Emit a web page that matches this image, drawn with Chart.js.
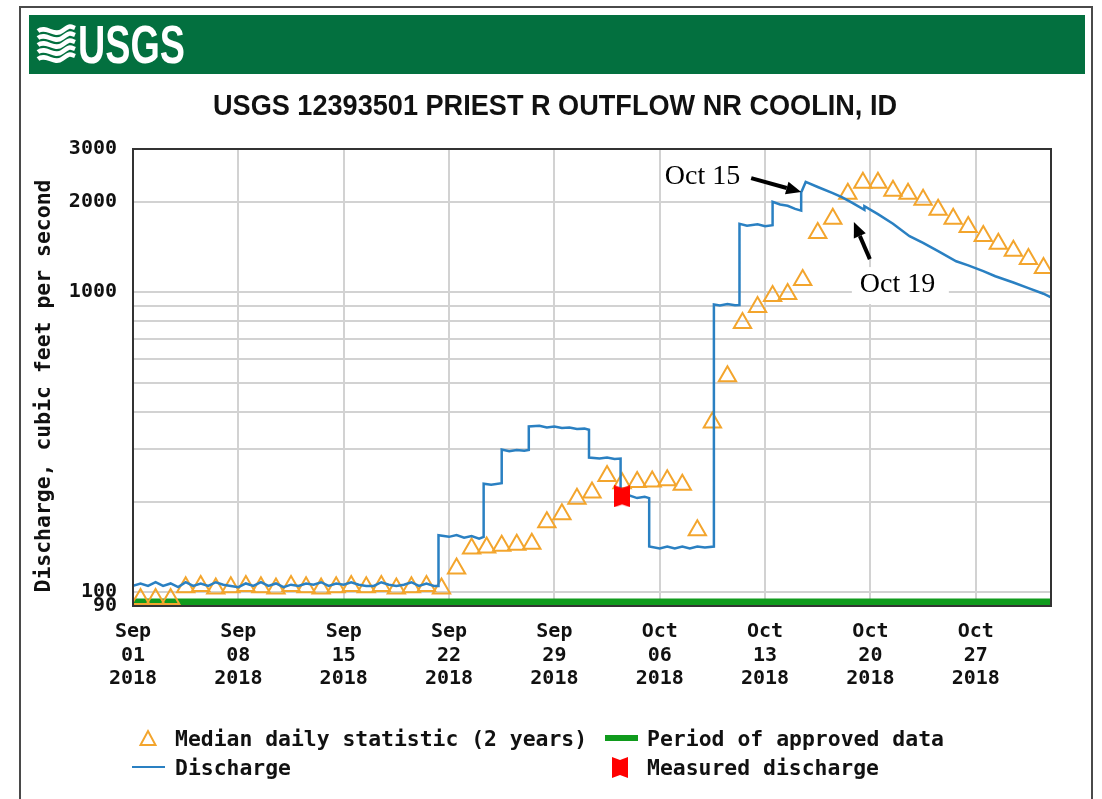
<!DOCTYPE html>
<html>
<head>
<meta charset="utf-8">
<title>USGS 12393501 PRIEST R OUTFLOW NR COOLIN, ID</title>
<script src="https://cdn.jsdelivr.net/npm/chart.js@4.4.1/dist/chart.umd.min.js"></script>
<style>
  html, body { margin: 0; padding: 0; background: #fff; }
  #page { position: relative; width: 1102px; height: 799px; overflow: hidden; }
  #chart { position: absolute; left: 0; top: 0; }
  #overlay { position: absolute; left: 0; top: 0; pointer-events: none; }
</style>
</head>
<body>
<div id="page">
  <canvas id="chart" width="1102" height="799"></canvas>
  <svg id="overlay" width="1102" height="799" xmlns="http://www.w3.org/2000/svg">
    <!-- outer frame and header banner -->
    <rect x="20" y="7" width="1072" height="820" fill="none" stroke="#4a4a4a" stroke-width="2"/>
    <rect x="29" y="15" width="1056" height="59" fill="#03703f"/>
    <g fill="none" stroke="#fff" stroke-width="4.5" stroke-linecap="butt">
      <path d="M38,31 C46,25 54,37 62,31 S70,26 75,28"/>
      <path d="M38,38 C46,32 54,44 62,38 S70,33 75,35"/>
      <path d="M38,45 C46,39 54,51 62,45 S70,40 75,42"/>
      <path d="M38,52 C46,46 54,58 62,52 S70,47 75,49"/>
      <path d="M38,59 C46,53 54,65 62,59 S70,54 75,56"/>
    </g>
    <text x="78" y="63" fill="#fff" font-family="Liberation Sans Narrow, Liberation Sans, Arial, sans-serif"
          font-weight="bold" font-size="53" textLength="107" lengthAdjust="spacingAndGlyphs">USGS</text>
    <!-- chart title -->
    <text x="555" y="115" text-anchor="middle" fill="#111"
          font-family="Liberation Sans Narrow, Liberation Sans, Arial, sans-serif" font-weight="bold"
          font-size="29" textLength="684" lengthAdjust="spacingAndGlyphs">USGS 12393501 PRIEST R OUTFLOW NR COOLIN, ID</text>
    <!-- y axis title -->
    <text transform="translate(50,386) rotate(-90)" text-anchor="middle" fill="#111"
          font-family="DejaVu Sans Mono, monospace" font-weight="bold" font-size="21"
          textLength="413" lengthAdjust="spacingAndGlyphs">Discharge, cubic feet per second</text>
    <!-- legend -->
    <g font-family="DejaVu Sans Mono, monospace" font-weight="bold" font-size="21" fill="#111">
      <polygon points="140.5,745 155.5,745 148,731" fill="none" stroke="#f3a52d" stroke-width="2"/>
      <text x="175" y="745.6" textLength="412" lengthAdjust="spacingAndGlyphs">Median daily statistic (2 years)</text>
      <rect x="605" y="735" width="33" height="6" fill="#109b1d"/>
      <text x="647" y="745.6" textLength="297" lengthAdjust="spacingAndGlyphs">Period of approved data</text>
      <line x1="132" y1="767" x2="165" y2="767" stroke="#2a80c2" stroke-width="2"/>
      <text x="175" y="774.6" textLength="116" lengthAdjust="spacingAndGlyphs">Discharge</text>
      <path d="M612,757 L620,760 L628,757 L628,778 L620,775 L612,778 Z" fill="#ff0000"/>
      <text x="647" y="774.6" textLength="232" lengthAdjust="spacingAndGlyphs">Measured discharge</text>
    </g>
  </svg>
</div>
<script>
// x values are days since Sep 01 2018 00:00
const xTickDays = [0, 7, 14, 21, 28, 35, 42, 49, 56];
const xTickLabels = [
  ['Sep', '01', '2018'], ['Sep', '08', '2018'], ['Sep', '15', '2018'],
  ['Sep', '22', '2018'], ['Sep', '29', '2018'], ['Oct', '06', '2018'],
  ['Oct', '13', '2018'], ['Oct', '20', '2018'], ['Oct', '27', '2018']
];
const yTickValues = [90, 100, 200, 300, 400, 500, 600, 700, 800, 900, 1000, 2000, 3000];
const yTickLabels = ['90', '100', '', '', '', '', '', '', '', '', '1000', '2000', '3000'];

// median daily statistic, one per day Sep 01 .. Oct 31 (plotted at noon)
const medianDays = [
  0, 1, 2, 3, 4, 5, 6, 7, 8, 9, 10, 11, 12, 13, 14, 15, 16, 17, 18, 19, 20,
  21, 22, 23, 24, 25, 26, 27, 28, 29, 30, 31, 32, 33, 34, 35, 36, 37, 38, 39, 40,
  41, 42, 43, 44, 45, 46, 47, 48, 49, 50, 51, 52, 53, 54, 55, 56, 57, 58, 59, 60
];
const medianValues = [
  95, 95, 95, 104, 105, 103, 104, 105, 104, 103, 105, 104, 103, 104, 105, 104, 105, 103, 104, 105, 103,
  120, 140, 141, 143, 144, 145, 171, 182, 205, 215, 244, 231, 233, 234, 236, 228, 161, 368, 525, 790,
  893, 971, 987, 1098, 1576, 1755, 2127, 2316, 2316, 2177, 2127, 2031, 1881, 1755, 1650, 1540, 1449, 1373, 1290, 1204
];

// instantaneous discharge
const dischargeDays = [
  0, 0.5, 1, 1.5, 2, 2.5, 3, 3.5, 4, 4.5, 5, 5.5, 6, 6.5, 7, 7.5, 8, 8.5, 9, 9.5,
  10, 10.5, 11, 11.5, 12, 12.5, 13, 13.5, 14, 14.5, 15, 15.5, 16, 16.5, 17, 17.5, 18, 18.5, 19, 19.5, 20,
  20.3, 20.3, 21, 21.5, 22, 22.5, 23, 23.3, 23.3, 23.8, 24.5, 24.5, 25, 25.5, 26, 26.3, 26.3,
  27, 27.5, 28, 28.5, 29, 29.5, 30, 30.3, 30.3, 31, 31.5, 32, 32.4, 32.4, 33, 33.5, 34, 34.3, 34.3,
  35, 35.5, 36, 36.5, 37, 37.5, 38, 38.6, 38.6, 39, 39.5, 40, 40.3, 40.3, 40.8, 41.5, 42, 42.5, 42.5,
  43, 43.5, 44, 44.4, 44.4, 44.7, 45.5, 46.5, 47.1, 47.8, 48.6, 48.6, 49.5, 50.5, 51.6, 52.5, 53.5,
  54.7, 55.5, 56.5, 57.3, 58.5, 59.5, 60.5, 61
];
const dischargeValues = [
  105, 107, 105, 108, 105, 107, 104, 108, 105, 107, 105, 108, 106, 105, 104, 107, 105, 108, 105, 107,
  104, 106, 105, 107, 106, 108, 105, 107, 106, 108, 106, 105, 105, 108, 106, 105, 106, 108, 105, 107, 105,
  105, 155, 153, 155, 152, 154, 151, 153, 230, 228, 231, 299, 295, 298, 296, 298, 357,
  359, 354, 357, 353, 354, 350, 351, 348, 281, 279, 281, 278, 279, 208, 210, 206, 208, 206, 142,
  140, 142, 140, 142, 140, 142, 141, 142, 910, 903, 913, 905, 906, 1690, 1665, 1685, 1660, 1672, 2000,
  1960, 1940, 1895, 1870, 2150, 2330, 2241, 2139, 2075, 1985, 1880, 1935, 1820, 1690, 1537, 1460, 1371,
  1268, 1228, 1175, 1130, 1077, 1031, 988, 960
];

// field measurement
const measuredDays = [32.5];
const measuredValues = [209];

// period of approved data (drawn as a band just above the axis)
const approvedDays = [0, 61];
const approvedValues = [92.5, 92.5];

const toPoints = (xs, ys, shift) => xs.map((d, i) => ({ x: d + (shift || 0), y: ys[i] }));

// red "measured discharge" marker
function makeMeasuredMarker(w, h) {
  const c = document.createElement('canvas');
  c.width = w; c.height = h;
  const g = c.getContext('2d');
  g.fillStyle = '#ff0000';
  g.beginPath();
  g.moveTo(0, 0); g.lineTo(w / 2, h * 0.13); g.lineTo(w, 0);
  g.lineTo(w, h); g.lineTo(w / 2, h * 0.87); g.lineTo(0, h);
  g.closePath();
  g.fill();
  return c;
}

// arrows + labels pointing at the two dates
const notes = [
  { text: 'Oct 15', day: 44.4, value: 2156, tail: [-50, -14], textAt: [-61, -15], align: 'right' },
  { text: 'Oct 19', day: 47.9, value: 1712, tail: [16, 37], textAt: [6, 63], align: 'left', box: [-2, 45, 97, 37] }
];

const notesPlugin = {
  id: 'notes',
  afterDraw(chart) {
    const { ctx, scales } = chart;
    ctx.save();
    notes.forEach((n) => {
      const hx = scales.x.getPixelForValue(n.day);
      const hy = scales.y.getPixelForValue(n.value);
      const tx = hx + n.tail[0], ty = hy + n.tail[1];
      if (n.box) {
        ctx.fillStyle = '#fff';
        ctx.fillRect(hx + n.box[0], hy + n.box[1], n.box[2], n.box[3]);
      }
      // shaft
      const ang = Math.atan2(hy - ty, hx - tx);
      const headLen = 15, headW = 6.5;
      const bx = hx - Math.cos(ang) * headLen, by = hy - Math.sin(ang) * headLen;
      ctx.strokeStyle = '#000'; ctx.lineWidth = 4;
      ctx.beginPath(); ctx.moveTo(tx, ty); ctx.lineTo(bx, by); ctx.stroke();
      // head
      ctx.fillStyle = '#000';
      ctx.beginPath();
      ctx.moveTo(hx, hy);
      ctx.lineTo(bx + Math.sin(ang) * headW, by - Math.cos(ang) * headW);
      ctx.lineTo(bx - Math.sin(ang) * headW, by + Math.cos(ang) * headW);
      ctx.closePath(); ctx.fill();
      // label
      ctx.font = '28px "Liberation Serif", "Times New Roman", serif';
      ctx.textAlign = n.align; ctx.textBaseline = 'middle';
      ctx.fillText(n.text, hx + n.textAt[0], hy + n.textAt[1]);
    });
    ctx.restore();
  }
};

const framePlugin = {
  id: 'frame',
  afterDatasetsDraw(chart) {
    const { ctx, chartArea: a } = chart;
    ctx.save();
    ctx.strokeStyle = '#333'; ctx.lineWidth = 2;
    ctx.strokeRect(a.left, a.top, a.right - a.left, a.bottom - a.top);
    ctx.restore();
  }
};

const tickFont = { family: '"DejaVu Sans Mono", monospace', size: 20, weight: 'bold', lineHeight: 1.18 };

new Chart(document.getElementById('chart'), {
  type: 'line',
  data: {
    datasets: [
      {
        label: 'Measured discharge',
        data: toPoints(measuredDays, measuredValues),
        showLine: false,
        pointStyle: makeMeasuredMarker(16, 22),
        pointRadius: 10
      },
      {
        label: 'Discharge',
        data: toPoints(dischargeDays, dischargeValues),
        borderColor: '#2a80c2',
        borderWidth: 2.5,
        pointRadius: 0,
        tension: 0
      },
      {
        label: 'Median daily statistic (2 years)',
        data: toPoints(medianDays, medianValues, 0.5),
        showLine: false,
        pointStyle: 'triangle',
        pointRadius: 10,
        pointBorderWidth: 2,
        pointBorderColor: '#f3a52d',
        pointBackgroundColor: 'rgba(0,0,0,0)'
      },
      {
        label: 'Period of approved data',
        data: toPoints(approvedDays, approvedValues),
        borderColor: '#109b1d',
        borderWidth: 8,
        pointRadius: 0
      }
    ]
  },
  options: {
    responsive: false,
    animation: false,
    devicePixelRatio: 1,
    layout: { padding: { left: 20, right: 51, top: 149, bottom: 0 } },
    plugins: { legend: { display: false }, tooltip: { enabled: false }, title: { display: false } },
    scales: {
      x: {
        type: 'linear',
        min: 0,
        max: 61,
        afterBuildTicks: (s) => { s.ticks = xTickDays.map((v) => ({ value: v })); },
        afterFit: (s) => { s.height = 193; },
        grid: { color: '#d2d2d2', lineWidth: 2, drawTicks: false },
        border: { display: false },
        ticks: {
          autoSkip: false, maxRotation: 0, minRotation: 0, padding: 14,
          color: '#111', font: tickFont,
          callback: (v, i) => xTickLabels[i]
        }
      },
      y: {
        type: 'logarithmic',
        min: 90,
        max: 3000,
        afterBuildTicks: (s) => { s.ticks = yTickValues.map((v) => ({ value: v })); },
        afterFit: (s) => { s.width = 113; },
        grid: { color: '#d2d2d2', lineWidth: 2, drawTicks: false },
        border: { display: false },
        ticks: {
          autoSkip: false, padding: 16,
          color: '#111', font: { family: '"DejaVu Sans Mono", monospace', size: 20, weight: 'bold' },
          callback: (v) => yTickLabels[yTickValues.indexOf(v)]
        }
      }
    }
  },
  plugins: [framePlugin, notesPlugin]
});
</script>
</body>
</html>
